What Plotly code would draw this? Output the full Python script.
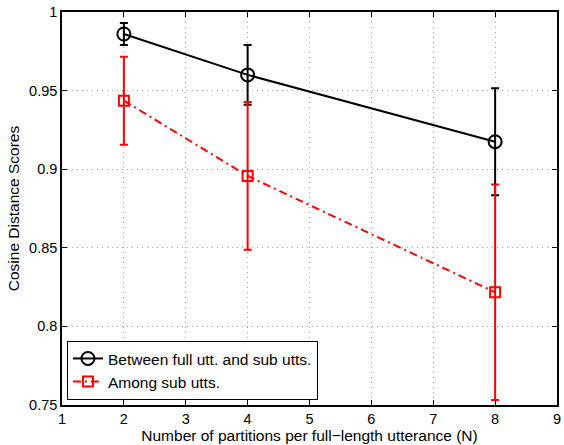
import plotly.graph_objects as go

x_vals = [2, 4, 8]
between_y = [0.986, 0.960, 0.9175]
between_err = [0.007, 0.019, 0.034]
among_y = [0.9436, 0.8957, 0.8217]
among_err = [0.028, 0.047, 0.0685]
names = ["Between full utt. and sub utts.", "Among sub utts."]
x_ticks = [1, 2, 3, 4, 5, 6, 7, 8, 9]
y_ticks = [0.75, 0.8, 0.85, 0.9, 0.95, 1]
y_tick_text = ["0.75", "0.8", "0.85", "0.9", "0.95", "1"]

FONT = "Liberation Sans, Arial, sans-serif"

fig = go.Figure()
fig.add_trace(go.Scatter(
    x=x_vals, y=between_y, name=names[0], mode="lines+markers",
    line=dict(color="black", width=2),
    marker=dict(symbol="circle-open", size=13, color="black", line=dict(width=2)),
    error_y=dict(type="data", array=between_err, visible=True, color="black", thickness=2, width=4),
))
fig.add_trace(go.Scatter(
    x=x_vals, y=among_y, name=names[1], mode="lines+markers",
    line=dict(color="red", width=2, dash="8px,4px,2px,4px"),
    marker=dict(symbol="square-open", size=10, color="red", line=dict(width=2)),
    error_y=dict(type="data", array=among_err, visible=True, color="red", thickness=2, width=4),
))

axis_common = dict(
    showline=True, linecolor="black", linewidth=1.5, mirror="ticks",
    ticks="inside", ticklen=5, tickcolor="black", tickwidth=1,
    showgrid=True, gridcolor="#a8a8a8", griddash="1px,4px", gridwidth=1,
    zeroline=False,
    tickfont=dict(family=FONT, size=14.5, color="black"),
)
fig.update_xaxes(range=[1, 9], tickvals=x_ticks, **axis_common,
                 title=dict(text="Number of partitions per full\u2212length utterance (N)",
                            font=dict(family=FONT, size=15.5, color="black"),
                            standoff=2))
fig.update_yaxes(range=[0.75, 1], tickvals=y_ticks, ticktext=y_tick_text, **axis_common,
                 title=dict(text="Cosine Distance Scores",
                            font=dict(family=FONT, size=15.5, color="black"),
                            standoff=6))
fig.update_layout(
    width=564, height=445,
    margin=dict(l=62, r=3, t=12, b=40),
    plot_bgcolor="white", paper_bgcolor="white",
    legend=dict(x=0.01, y=0.013, xanchor="left", yanchor="bottom",
                bgcolor="white", bordercolor="black", borderwidth=1,
                font=dict(family=FONT, size=15.5, color="black"),
                tracegroupgap=0, itemwidth=30),
    showlegend=True,
)
fig.write_html("out.html")
